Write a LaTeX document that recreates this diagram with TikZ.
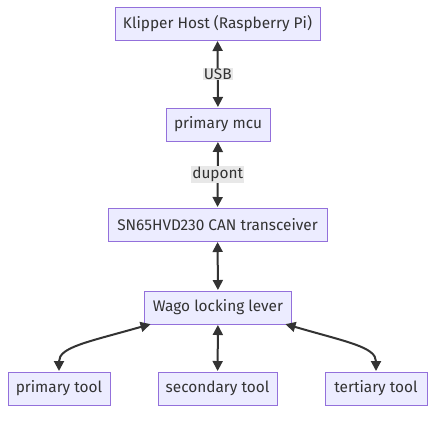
\documentclass[tikz,border=0pt]{standalone}
\usepackage{fontspec}
\setmainfont{Fira Sans}
\usetikzlibrary{arrows.meta}
\definecolor{boxfill}{HTML}{ECECFF}
\definecolor{boxdraw}{HTML}{9370DB}
\definecolor{edge}{HTML}{333333}
\definecolor{lblbg}{HTML}{E8E8E8}
\tikzset{
  box/.style={draw=boxdraw, fill=boxfill, line width=1pt, minimum height=33pt, inner sep=0pt, font=\fontsize{15.4}{17}\selectfont, text=edge},
  conn/.style={draw=edge, line width=2pt, {Triangle[length=10pt,width=10pt]}-{Triangle[length=10pt,width=10pt]}, shorten <=0.5pt, shorten >=0.5pt},
  lbl/.style={fill=lblbg, inner sep=1pt, font=\fontsize{15.4}{17}\selectfont, text=edge}
}
\begin{document}
\begin{tikzpicture}[x=1pt,y=-1pt]
\useasboundingbox (0,0) rectangle (443,421);
\node[box, minimum width=205pt] (host) at (217.5,23.5) {Klipper Host (Raspberry Pi)};
\node[box, minimum width=104pt] (mcu) at (218,124.5) {primary mcu};
\node[box, minimum width=219pt] (can) at (217.5,224.5) {SN65HVD230 CAN transceiver};
\node[box, minimum width=147pt] (wago) at (218,307.5) {Wago locking lever};
\node[box, minimum width=102pt] (t1) at (59,388.5) {primary tool};
\node[box, minimum width=119pt] (t2) at (217.5,388.5) {secondary tool};
\node[box, minimum width=102pt] (t3) at (376,388.5) {tertiary tool};
\coordinate (wl) at (151,324);
\coordinate (wr) at (285,324);
\draw[conn] (host) -- node[lbl] {USB} (mcu);
\draw[conn] (mcu) -- node[lbl] {dupont} (can);
\draw[conn] (can) -- (wago);
\draw[conn] (wago) -- (t2);
\draw[conn] (wl) .. controls (88,342) and (59,347) .. (t1.north);
\draw[conn] (wr) .. controls (347,342) and (376,347) .. (t3.north);
\end{tikzpicture}
\end{document}
